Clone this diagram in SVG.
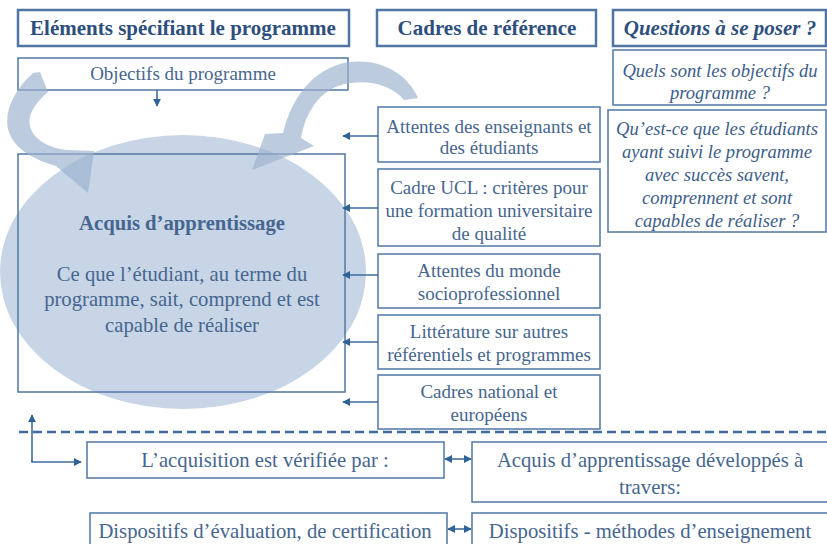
<svg xmlns="http://www.w3.org/2000/svg" width="827" height="544" viewBox="0 0 827 544">
<defs>
<style>
.hb{fill:#fff;stroke:#4f76a3;stroke-width:2.5}
.bx{fill:none;stroke:#5a7fa9;stroke-width:1.6}
.ht{font-family:"Liberation Serif","Times New Roman",serif;font-weight:bold;font-size:21px;fill:#2e4f7d;text-anchor:middle}
.t{font-family:"Liberation Serif","Times New Roman",serif;font-size:19px;fill:#46668f;text-anchor:middle}
.ti{font-family:"Liberation Serif","Times New Roman",serif;font-style:italic;font-size:18.6px;fill:#3d5e8a;text-anchor:middle}
.tb{font-family:"Liberation Serif","Times New Roman",serif;font-size:20.7px;fill:#46668f;text-anchor:middle}
.cn{stroke:#3f6c9c;stroke-width:1.6;fill:none}
</style>
<marker id="ah" viewBox="0 0 10 10" refX="9" refY="5" markerWidth="8" markerHeight="8" markerUnits="userSpaceOnUse" orient="auto-start-reverse">
<path d="M0,0 L10,5 L0,10 z" fill="#2f6298"/>
</marker>
</defs>
<rect width="827" height="544" fill="#fff"/>
<ellipse cx="183" cy="272" rx="183" ry="137" fill="#c7d5e6"/>

<g id="h1"><rect class="hb" x="18" y="10" width="331" height="36"/><text class="ht" x="183" y="35">Eléments spécifiant le programme</text></g>
<g id="h2"><rect class="hb" x="377" y="10" width="219" height="36"/><text class="ht" x="487" y="35">Cadres de référence</text></g>
<g id="h3"><rect class="hb" x="613" y="10" width="213" height="36"/><text class="ht" x="720" y="35" font-style="italic">Questions à se poser ?</text></g>

<g id="objectifs"><rect class="bx" x="18" y="58" width="330" height="32"/><text class="t" x="183" y="80" font-size="18.6">Objectifs du programme</text></g>
<g id="acquis"><rect class="bx" x="18" y="154" width="327" height="238"/>
<text class="tb" x="182" y="230" font-weight="bold" fill="#3a5c8a">Acquis d’apprentissage</text>
<text class="tb" x="182" y="281">Ce que l’étudiant, au terme du</text>
<text class="tb" x="182" y="306">programme,  sait, comprend et est</text>
<text class="tb" x="182" y="332">capable de réaliser</text></g>

<g id="c1"><rect class="bx" x="378" y="107" width="222" height="55"/><text class="t" x="489" y="133">Attentes des enseignants et</text><text class="t" x="489" y="154">des étudiants</text></g>
<g id="c2"><rect class="bx" x="378" y="169" width="222" height="77"/><text class="t" x="489" y="194">Cadre UCL : critères pour</text><text class="t" x="489" y="217">une formation universitaire</text><text class="t" x="489" y="240">de qualité</text></g>
<g id="c3"><rect class="bx" x="378" y="254" width="222" height="54"/><text class="t" x="489" y="277">Attentes du monde</text><text class="t" x="489" y="300">socioprofessionnel</text></g>
<g id="c4"><rect class="bx" x="378" y="315" width="222" height="54"/><text class="t" x="489" y="338">Littérature sur autres</text><text class="t" x="489" y="361">référentiels et programmes</text></g>
<g id="c5"><rect class="bx" x="378" y="375" width="222" height="54"/><text class="t" x="489" y="398">Cadres national et</text><text class="t" x="489" y="421">européens</text></g>

<g id="q1"><rect class="bx" x="613" y="50" width="213" height="55"/><text class="ti" x="720" y="77">Quels sont les objectifs du</text><text class="ti" x="720" y="99">programme ?</text></g>
<g id="q2"><rect class="bx" x="608" y="110" width="218" height="122"/>
<text class="ti" x="717" y="135">Qu’est-ce que les étudiants</text>
<text class="ti" x="717" y="158">ayant suivi le programme</text>
<text class="ti" x="717" y="181">avec succès savent,</text>
<text class="ti" x="717" y="204">comprennent  et sont</text>
<text class="ti" x="717" y="227">capables de réaliser  ?</text></g>

<g id="verif"><rect class="bx" x="87" y="442" width="357" height="36"/><text class="tb" x="265" y="467">L’acquisition est vérifiée par :</text></g>
<g id="dev"><rect class="bx" x="472" y="442" width="356" height="60"/><text class="tb" x="650" y="467">Acquis d’apprentissage développés à</text><text class="tb" x="650" y="494">travers:</text></g>
<g id="eval"><rect class="bx" x="90" y="513" width="357" height="40"/><text class="tb" x="265" y="538">Dispositifs d’évaluation, de certification</text></g>
<g id="meth"><rect class="bx" x="472" y="513" width="356" height="40"/><text class="tb" x="650" y="538">Dispositifs - méthodes d’enseignement</text></g>

<g id="curved" fill="#9db3cf" opacity="0.68">
<path d="M40,72 L48,92 C36,102 27,115 30,126 C33,140 50,148 66,150 L94,151 L88,193 L56,166 C35,160 15,150 9,132 C3,115 12,92 33,73 Z"/>
<path d="M418,98 C405,68 370,56 340,64 C310,73 291,100 283,133 L265,134 L252,170 L314,146 L301,138 C306,112 318,94 338,86 C362,78 390,83 404,100 Z"/>
</g>

<g id="connectors">
<line class="cn" x1="157" y1="90" x2="157" y2="106" marker-end="url(#ah)"/>
<line class="cn" x1="378" y1="136" x2="343" y2="136" marker-end="url(#ah)"/>
<line class="cn" x1="378" y1="208" x2="343" y2="208" marker-end="url(#ah)"/>
<line class="cn" x1="378" y1="275" x2="343" y2="275" marker-end="url(#ah)"/>
<line class="cn" x1="378" y1="342" x2="343" y2="342" marker-end="url(#ah)"/>
<line class="cn" x1="378" y1="402" x2="343" y2="402" marker-end="url(#ah)"/>
<line x1="19" y1="432" x2="827" y2="432" stroke="#3f6c9c" stroke-width="2.5" stroke-dasharray="9 5"/>
<polyline class="cn" points="32,462 32,415" marker-end="url(#ah)"/>
<polyline class="cn" points="32,460 32,462 81,462" marker-end="url(#ah)"/>
<line class="cn" x1="445" y1="459" x2="471" y2="459" marker-start="url(#ah)" marker-end="url(#ah)"/>
<line class="cn" x1="448" y1="529" x2="471" y2="529" marker-start="url(#ah)" marker-end="url(#ah)"/>
</g>
</svg>
